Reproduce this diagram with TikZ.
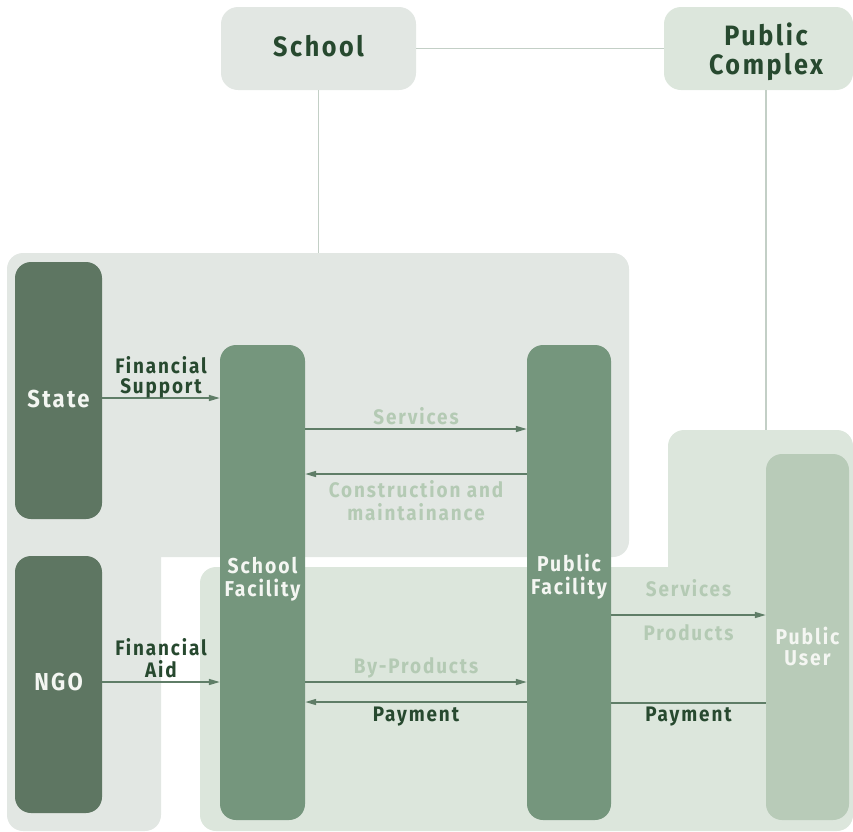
\documentclass[tikz,border=0pt]{standalone}
\usepackage{fontspec}
\setmainfont{Fira Sans}[LetterSpace=9, FakeStretch=0.9]
\usetikzlibrary{arrows.meta}
\definecolor{greybg}{HTML}{E2E7E3}
\definecolor{greenbg}{HTML}{DCE6DC}
\definecolor{darkbar}{HTML}{5E7662}
\definecolor{midbar}{HTML}{75967D}
\definecolor{userbar}{HTML}{B8CBB8}
\definecolor{darktxt}{HTML}{27492F}
\definecolor{lighttxt}{HTML}{B4CAB4}
\definecolor{whitetxt}{HTML}{F4F6F2}
\definecolor{linkline}{HTML}{C3CFC6}
\definecolor{arrowcol}{HTML}{5F7D67}
\newcommand{\twol}[2]{\begin{tabular}[t]{@{}c@{}}#1\\#2\end{tabular}}
\begin{document}
\begin{tikzpicture}[x=1pt,y=-1pt,
  topbox/.style={rounded corners=17pt, inner sep=0pt},
  barbox/.style={rounded corners=16pt, inner sep=0pt, draw=none},
  heading/.style={anchor=base, inner sep=0pt, text=darktxt, font=\bfseries\fontsize{28}{27}\selectfont},
  bartext/.style={anchor=base, inner sep=0pt, text=whitetxt, font=\bfseries\fontsize{21.5}{21.5}\selectfont},
  bigbartext/.style={anchor=base, inner sep=0pt, text=whitetxt, font=\bfseries\fontsize{24.5}{24}\selectfont},
  darklabel/.style={anchor=base, inner sep=0pt, text=darktxt, font=\bfseries\fontsize{21}{19}\selectfont},
  lightlabel/.style={anchor=base, inner sep=0pt, text=lighttxt, font=\bfseries\fontsize{21}{21}\selectfont},
  arr/.style={draw=arrowcol, line width=1.5pt, -{Triangle[length=11pt,width=6pt]}},
  plainline/.style={draw=arrowcol, line width=1.5pt},
  linkstyle/.style={draw=linkline, line width=1.5pt}
]
\useasboundingbox (0,0) rectangle (853,831);
% background regions
\fill[greybg, rounded corners=16pt] (7,253) -- (629,253) -- (629,557) [sharp corners] -- (161,557) [rounded corners=16pt] -- (161,831) -- (7,831) -- cycle;
\fill[greenbg, rounded corners=16pt] (200,567) [sharp corners] -- (668,567) [rounded corners=16pt] -- (668,430) -- (853,430) -- (853,831) -- (200,831) -- cycle;
\coordinate (greytop) at (318.5,253);
\coordinate (greentop) at (766,430);
% top boxes
\node[topbox, fill=greybg, minimum width=195pt, minimum height=83pt] (school) at (318.5,48.5) {};
\node[topbox, fill=greenbg, minimum width=189pt, minimum height=83pt] (pc) at (758.5,48.5) {};
\node[heading] (schooltxt) at (318.5,56) {School};
\node[heading] (pctxt) at (766,45) {\twol{Public}{Complex}};
\draw[linkstyle] (school.east) -- (pc.west);
\draw[linkstyle] (school.south) -- (greytop);
\draw[linkstyle] (pc.south -| greentop) -- (greentop);
% bars
\node[barbox, fill=darkbar, minimum width=87pt, minimum height=257pt] (state) at (58.5,390.5) {};
\node[barbox, fill=darkbar, minimum width=87pt, minimum height=257pt] (ngo) at (58.5,684.5) {};
\node[barbox, fill=midbar, minimum width=85pt, minimum height=475pt] (sf) at (262.5,582.5) {};
\node[barbox, fill=midbar, minimum width=84pt, minimum height=475pt] (pf) at (569,582.5) {};
\node[barbox, fill=userbar, minimum width=83pt, minimum height=366pt] (pu) at (807.5,637) {};
\node[bigbartext] (statetxt) at (58.5,407) {State};
\node[bigbartext] (ngotxt) at (58.5,690) {NGO};
\node[bartext] (sftxt) at (262.5,573) {\twol{School}{Facility}};
\node[bartext] (pftxt) at (569,571) {\twol{Public}{Facility}};
\node[bartext] (putxt) at (807.5,644) {\twol{Public}{User}};
% arrow levels
\coordinate (l1) at (0,398);
\coordinate (l2) at (0,682);
\coordinate (l3) at (0,429);
\coordinate (l4) at (0,474);
\coordinate (l5) at (0,682);
\coordinate (l6) at (0,702);
\coordinate (l7) at (0,615);
\coordinate (l8) at (0,703);
\draw[arr] (state.east |- l1) -- (sf.west |- l1);
\draw[arr] (ngo.east |- l2) -- (sf.west |- l2);
\draw[arr] (sf.east |- l3) -- (pf.west |- l3);
\draw[arr] (pf.west |- l4) -- (sf.east |- l4);
\draw[arr] (sf.east |- l5) -- (pf.west |- l5);
\draw[arr] (pf.west |- l6) -- (sf.east |- l6);
\draw[arr] (pf.east |- l7) -- (pu.west |- l7);
\draw[plainline] (pu.west |- l8) -- (pf.east |- l8);
% labels
\node[darklabel] (finsup) at (161,373) {\twol{Financial}{Support}};
\node[darklabel] (finaid) at (161,655) {\twol{Financial}{Aid}};
\node[lightlabel] (serv1) at (416,424) {Services};
\node[lightlabel] (constr) at (416,497) {\twol{Construction and}{maintainance}};
\node[lightlabel] (byprod) at (416,673) {By-Products};
\node[darklabel] (pay1) at (416,721) {Payment};
\node[lightlabel] (serv2) at (688.5,596) {Services};
\node[lightlabel] (prod) at (688.5,640) {Products};
\node[darklabel] (pay2) at (688.5,721) {Payment};
\end{tikzpicture}
\end{document}
